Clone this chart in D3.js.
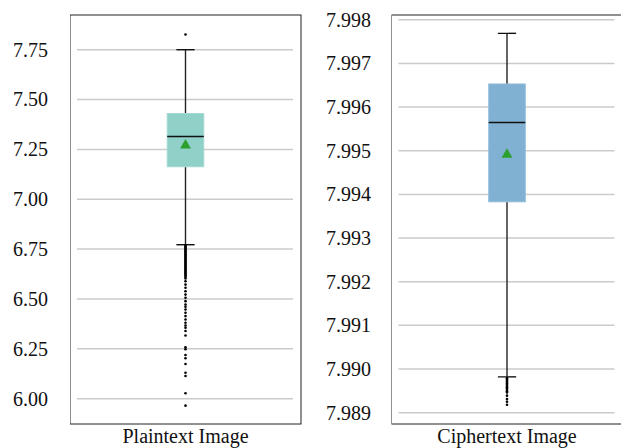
<!DOCTYPE html>
<html>
<head>
<meta charset="utf-8">
<script src="https://cdn.jsdelivr.net/npm/d3@7"></script>
<style>
  body { margin: 0; background: #fff; }
  text { font-family: "Liberation Serif", "Times New Roman", serif; fill: #111; }
  .grid line { stroke: #cbcbcb; stroke-width: 1.5; }
  .frame { fill: none; stroke: #222; stroke-width: 1; }
</style>
</head>
<body>
<div class="chart"></div>
<script>
// values
var categories = ["Plaintext Image", "Ciphertext Image"];
var plainStats = { q1: 7.163, median: 7.315, q3: 7.43, mean: 7.27, lo: 6.772, hi: 7.75 };
var cipherStats = { q1: 7.99383, median: 7.99565, q3: 7.99653, mean: 7.99491, lo: 7.98982, hi: 7.99769 };

var plainFliers = [7.826,
  6.768, 6.763, 6.758, 6.753, 6.748, 6.743, 6.738, 6.733, 6.728, 6.723, 6.718, 6.713,
  6.708, 6.703, 6.698, 6.693, 6.688, 6.683, 6.678, 6.673, 6.668, 6.663, 6.658, 6.653,
  6.648, 6.643, 6.638, 6.633, 6.628, 6.622, 6.616, 6.61, 6.603,
  6.589, 6.572, 6.556, 6.539, 6.522, 6.506, 6.489, 6.472, 6.461, 6.447, 6.431, 6.414,
  6.397, 6.381, 6.367, 6.356, 6.339, 6.317,
  6.258, 6.248, 6.219, 6.203, 6.174, 6.130, 6.114, 6.027, 5.965];
var cipherFliers = [7.98979, 7.98976, 7.98973, 7.9897, 7.98967, 7.98964, 7.98961, 7.98958,
  7.98955, 7.98952, 7.98949, 7.98946, 7.98939, 7.98931, 7.98925, 7.98918];

var plainTicks = [6.00, 6.25, 6.50, 6.75, 7.00, 7.25, 7.50, 7.75];
var cipherTicks = [7.989, 7.990, 7.991, 7.992, 7.993, 7.994, 7.995, 7.996, 7.997, 7.998];

var plainDomain = [5.873, 7.924];
var cipherDomain = [7.98874, 7.99811];

var width = 621, height = 448;
var serif = '"Liberation Serif", "Times New Roman", serif';
var svg = d3.select(".chart").append("svg")
  .attr("width", width).attr("height", height);

function panel(opts) {
  var x0 = opts.left, x1 = opts.left + 231, top = 15, bottom = 424;
  var g = svg.append("g");

  var y = d3.scaleLinear().domain(opts.domain).range([bottom, top]);
  var x = d3.scaleBand().domain([opts.name]).range([x0, x1]).paddingInner(0).paddingOuter(2.66);

  var clip = "clip" + opts.id;
  g.append("clipPath").attr("id", clip)
    .append("rect").attr("x", x0).attr("y", 0).attr("width", width - x0).attr("height", height);

  var inner = g.append("g").attr("clip-path", "url(#" + clip + ")");

  // grid
  inner.append("g").attr("class", "grid")
    .selectAll("line").data(opts.ticks).join("line")
    .attr("x1", x0 + 7).attr("x2", x1 - 8)
    .attr("y1", function(d) { return y(d); })
    .attr("y2", function(d) { return y(d); });

  var s = opts.stats;
  var cx = x(opts.name) + x.bandwidth() / 2;
  var bw = x.bandwidth(), cap = bw / 2;

  // whiskers
  inner.append("line").attr("x1", cx).attr("x2", cx)
    .attr("y1", y(s.q3)).attr("y2", y(s.hi))
    .attr("stroke", "#222").attr("stroke-width", 1.4);
  inner.append("line").attr("x1", cx).attr("x2", cx)
    .attr("y1", y(s.q1)).attr("y2", y(s.lo))
    .attr("stroke", "#222").attr("stroke-width", 1.4);
  [s.hi, s.lo].forEach(function(v) {
    inner.append("line").attr("x1", cx - cap / 2).attr("x2", cx + cap / 2)
      .attr("y1", y(v)).attr("y2", y(v))
      .attr("stroke", "#111").attr("stroke-width", 1.4);
  });

  // fliers
  inner.append("g").selectAll("circle").data(opts.fliers).join("circle")
    .attr("cx", cx).attr("cy", function(d) { return y(d); })
    .attr("r", 1.3).attr("fill", "#000");

  // box
  inner.append("rect")
    .attr("x", cx - bw / 2).attr("width", bw)
    .attr("y", y(s.q3)).attr("height", y(s.q1) - y(s.q3))
    .attr("fill", opts.color).attr("stroke", opts.edge).attr("stroke-width", 1);
  inner.append("line").attr("x1", cx - bw / 2).attr("x2", cx + bw / 2)
    .attr("y1", y(s.median)).attr("y2", y(s.median))
    .attr("stroke", "#111").attr("stroke-width", 1.5);

  // mean
  inner.append("path")
    .attr("d", d3.symbol(d3.symbolTriangle, 52)())
    .attr("transform", "translate(" + cx + "," + y(s.mean) + ")")
    .attr("fill", "#2ca02c");

  // frame
  inner.append("rect").attr("class", "frame")
    .attr("x", x0).attr("y", top).attr("width", x1 - x0).attr("height", bottom - top);

  // y axis
  var axis = d3.axisLeft(y).tickValues(opts.ticks).tickFormat(d3.format(opts.fmt))
    .tickSize(0).tickPadding(opts.pad);
  var ag = g.append("g").attr("transform", "translate(" + x0 + ",0)").call(axis)
    .attr("font-family", null).attr("font-size", null);
  ag.select(".domain").remove();
  ag.selectAll("text")
    .style("font-family", serif).style("font-size", "20px").style("fill", "#111");

  // x label
  g.append("text").attr("x", cx).attr("y", 443)
    .attr("text-anchor", "middle")
    .style("font-family", serif).style("font-size", "20px")
    .text(opts.name);
}

panel({ id: 1, name: categories[0], left: 70, domain: plainDomain, ticks: plainTicks,
  fmt: ".2f", pad: 22, stats: plainStats, fliers: plainFliers, color: "#8fd1c8", edge: "#a3dad2" });
panel({ id: 2, name: categories[1], left: 391.5, domain: cipherDomain, ticks: cipherTicks,
  fmt: ".3f", pad: 20.5, stats: cipherStats, fliers: cipherFliers, color: "#80b1d3", edge: "#93bddb" });
</script>
</body>
</html>
